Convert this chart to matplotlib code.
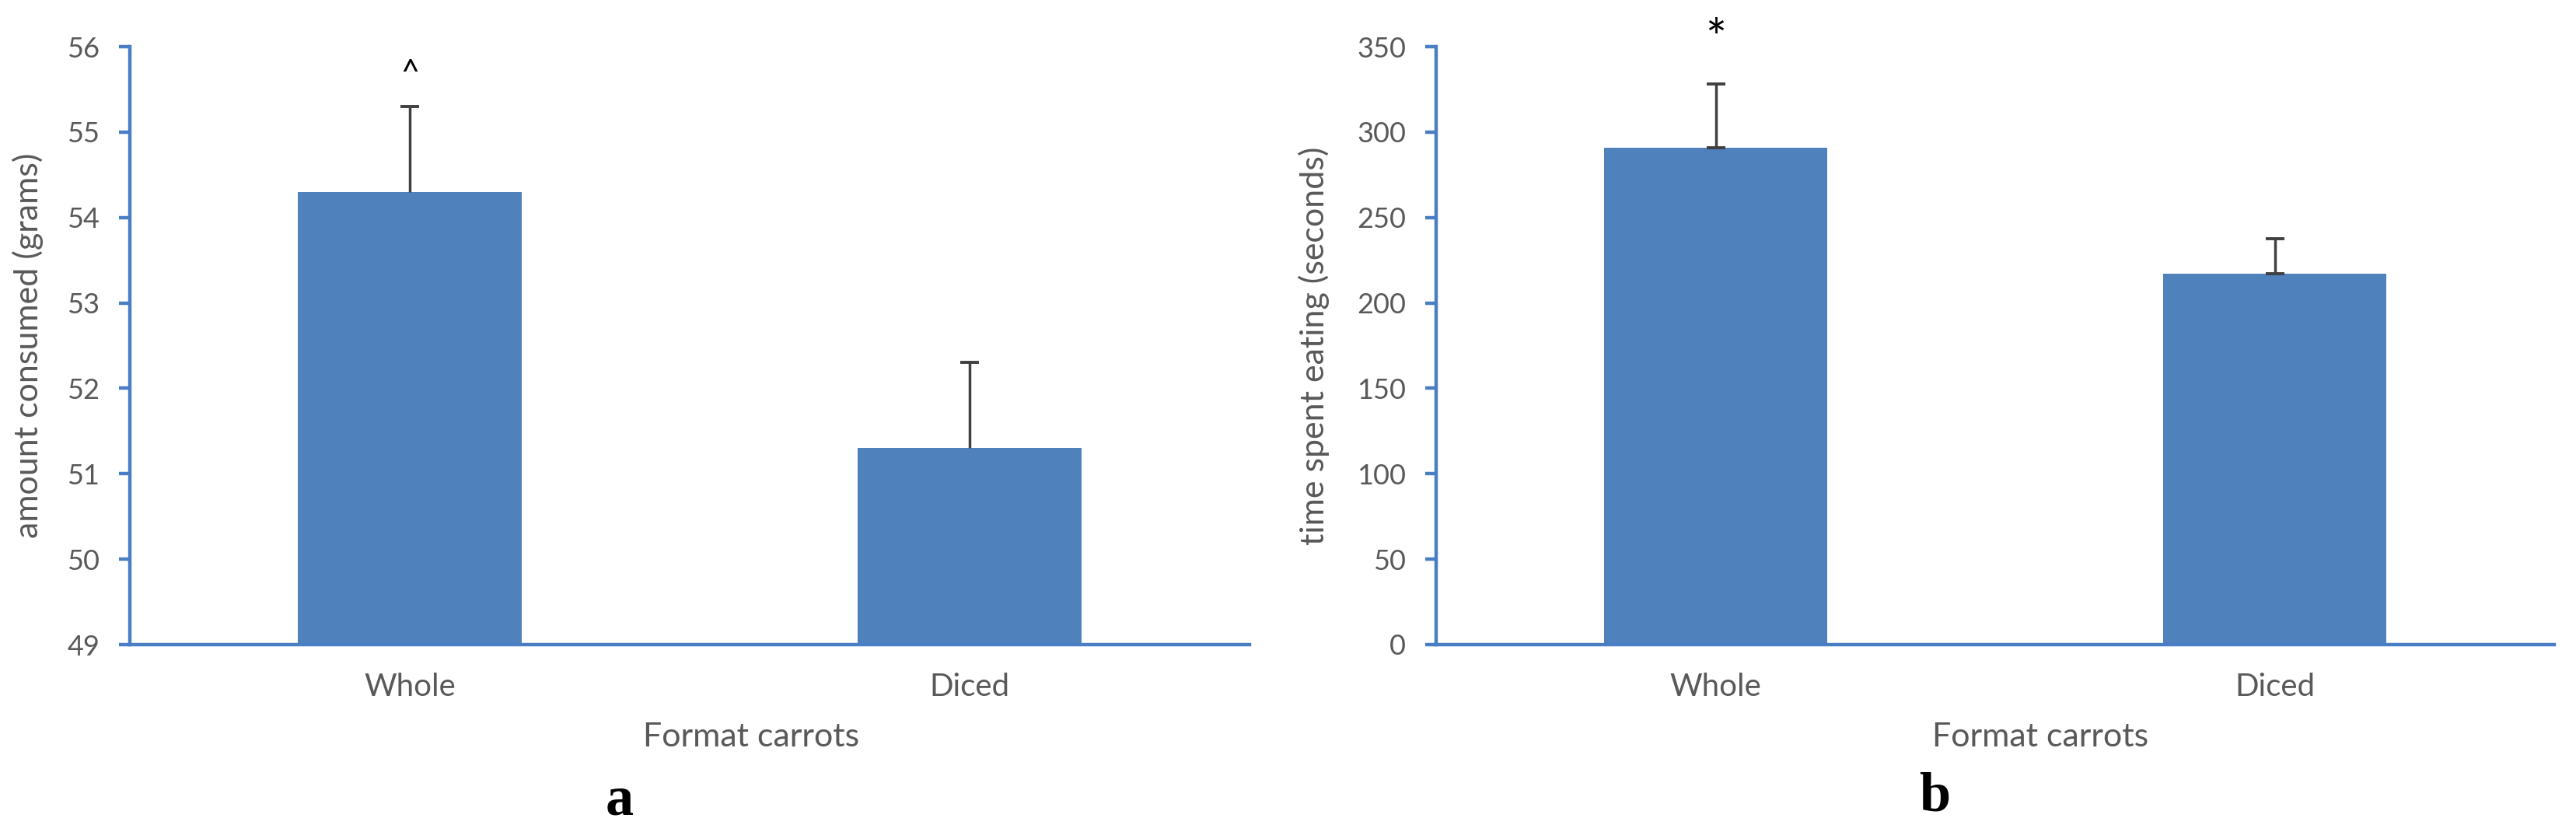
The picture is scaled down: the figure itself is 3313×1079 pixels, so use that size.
import matplotlib
matplotlib.use("Agg")
import matplotlib.pyplot as plt
import numpy as np

# ---- data ----
categories = ["Whole", "Diced"]
amount_means = [54.3, 51.3]
amount_errs = [1.0, 1.0]
time_means = [291, 217]
time_errs = [37, 20.5]
amount_ticks = [49, 50, 51, 52, 53, 54, 55, 56]
time_ticks = [0, 50, 100, 150, 200, 250, 300, 350]
amount_marks = ["^", ""]
time_marks = ["*", ""]

BAR = "#4F81BD"
SPINE = "#4A7EC4"
TXT = "#595959"
ERR = "#404040"
FONT = ["Lato", "DejaVu Sans"]

fig = plt.figure(figsize=(33.13, 10.79), dpi=100)
axL = fig.add_axes([167/3313, 1-829/1079, 1440/3313, 769/1079])
axR = fig.add_axes([1847/3313, 1-829/1079, 1438/3313, 769/1079])


def style(ax, ticks, ylabel, label_x):
    ax.set_ylim(ticks[0], ticks[-1])
    ax.set_yticks(ticks)
    ax.set_yticklabels([str(t) for t in ticks], fontfamily=FONT, fontsize=26, color=TXT)
    ax.set_xlim(-0.5, 1.5)
    ax.set_xticks(range(len(categories)))
    ax.set_xticklabels(categories, fontfamily=FONT, fontsize=29, color=TXT)
    for s in ["top", "right"]:
        ax.spines[s].set_visible(False)
    for s in ["left", "bottom"]:
        ax.spines[s].set_color(SPINE)
        ax.spines[s].set_linewidth(3.2)
    ax.tick_params(axis="y", direction="out", length=10, width=3.2, color=SPINE, pad=18)
    ax.tick_params(axis="x", length=0, pad=26)
    ax.set_ylabel(ylabel, fontfamily=FONT, fontsize=31, color=TXT)
    ax.yaxis.set_label_coords(label_x, 0.5)


def bars(ax, means, errs, bottom, marks, mark_off, mark_size, lower_cap):
    x = np.arange(len(categories))
    heights = [m - bottom for m in means]
    ax.bar(x, heights, bottom=bottom, width=0.4, color=BAR, zorder=2)
    _, caps, _ = ax.errorbar(x, means, yerr=[[0]*len(errs), errs], fmt="none",
                             ecolor=ERR, elinewidth=2.5, capsize=8.5, capthick=2.8, zorder=3)
    if not lower_cap:
        for c in caps:
            if np.allclose(c.get_ydata(), means):
                c.set_visible(False)
    for xi, m, e, mk in zip(x, means, errs, marks):
        if mk:
            ax.annotate(mk, xy=(xi, m + e), xytext=(0, mark_off), textcoords="offset points",
                        ha="center", va="center", fontsize=mark_size, color="black",
                        fontfamily=FONT)


style(axL, amount_ticks, "amount consumed (grams)", -0.077)
style(axR, time_ticks, "time spent eating (seconds)", -0.095)
bars(axL, amount_means, amount_errs, amount_ticks[0], amount_marks, 30, 30, False)
bars(axR, time_means, time_errs, time_ticks[0], time_marks, 40, 46, True)

fig.text(966/3313, 1-948/1079, "Format carrots", ha="center", va="center",
         fontfamily=FONT, fontsize=31, color=TXT)
fig.text(2624/3313, 1-948/1079, "Format carrots", ha="center", va="center",
         fontfamily=FONT, fontsize=31, color=TXT)
fig.text(797/3313, 1-1030/1079, "a", ha="center", va="center",
         fontfamily=["Liberation Serif", "DejaVu Serif"], fontweight="bold", fontsize=52)
fig.text(2488/3313, 1-1025/1079, "b", ha="center", va="center",
         fontfamily=["Liberation Serif", "DejaVu Serif"], fontweight="bold", fontsize=52)

fig.savefig("out.png", dpi=100, facecolor="white")
